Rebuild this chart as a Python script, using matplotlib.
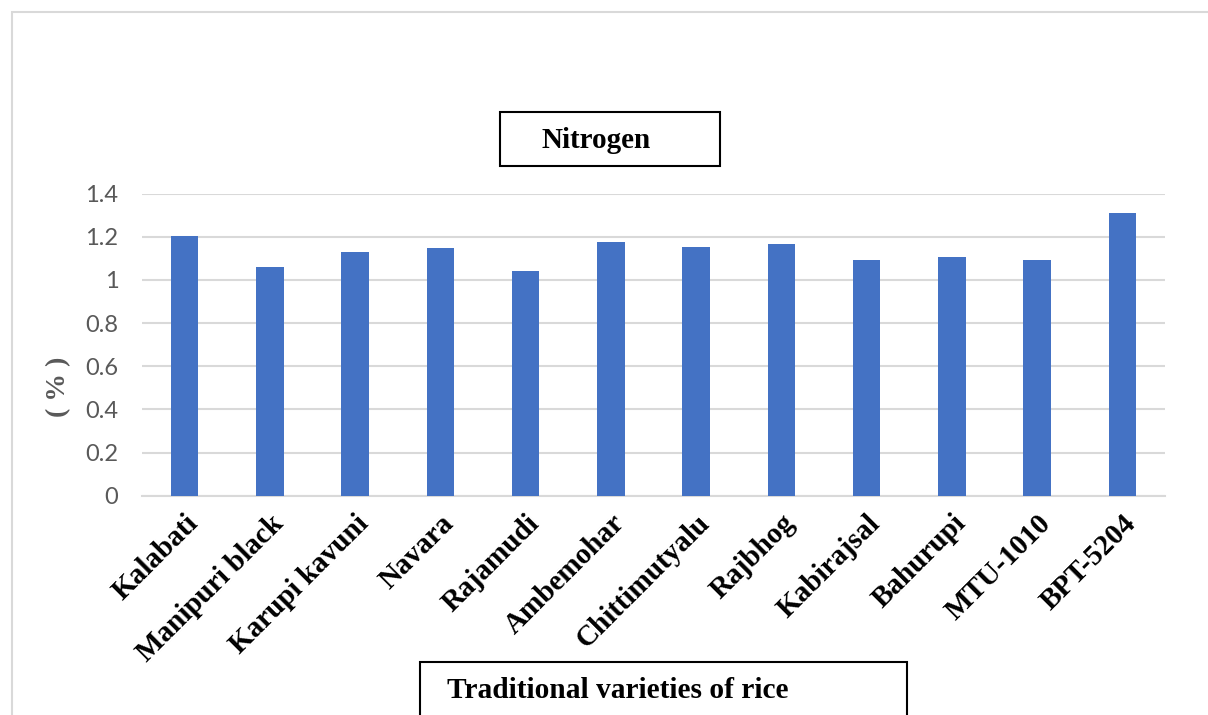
import numpy as np
import matplotlib.pyplot as plt
from matplotlib.patches import Rectangle

# nitrogen content of rice varieties
varieties = ['Kalabati', 'Manipuri black', 'Karupi kavuni', 'Navara', 'Rajamudi',
             'Ambemohar', 'Chittimutyalu', 'Rajbhog', 'Kabirajsal', 'Bahurupi',
             'MTU-1010', 'BPT-5204']
nitrogen = [1.203, 1.062, 1.130, 1.147, 1.042, 1.175,
            1.152, 1.168, 1.091, 1.105, 1.091, 1.309]
yticks = [0, 0.2, 0.4, 0.6, 0.8, 1, 1.2, 1.4]
ytick_labels = ['0', '0.2', '0.4', '0.6', '0.8', '1', '1.2', '1.4']

W, H = 1208, 715
fig = plt.figure(figsize=(W / 100, H / 100), dpi=100)

# outer chart frame (cut off at right/bottom)
fig.patches.append(Rectangle((12 / W, -0.1), 1.2, 1 - 12 / H + 0.1,
                             transform=fig.transFigure, fill=False,
                             edgecolor='#d9d9d9', lw=1.5))

ax = fig.add_axes([142 / W, 1 - 495.7 / H, 1023 / W, 302 / H])
x = np.arange(len(varieties))
ax.bar(x, nitrogen, width=0.32, color='#4472C4', zorder=3)
ax.set_xlim(-0.5, len(varieties) - 0.5)
ax.set_ylim(0, 1.4)
ax.set_yticks(yticks)
ax.set_yticklabels(ytick_labels, fontfamily='Lato', fontsize=17, color='#595959')
ax.yaxis.grid(True, color='#d9d9d9', lw=1.5, zorder=0)
ax.tick_params(axis='y', length=0, pad=17)
ax.tick_params(axis='x', length=0, pad=10)
for s in ['top', 'right', 'left']:
    ax.spines[s].set_visible(False)
ax.spines['bottom'].set_color('#d9d9d9')
ax.spines['bottom'].set_linewidth(1.5)

ax.set_xticks(x)
ax.set_xticklabels(varieties, rotation=45, ha='right', rotation_mode='anchor',
                   fontfamily='Liberation Serif', fontweight='bold', fontsize=21)

fig.text(59 / W, 1 - 387 / H, '( % )', rotation=90, ha='center', va='center',
         fontfamily='Liberation Serif', fontweight='bold', fontsize=20, color='#595959')

# title box
fig.patches.append(Rectangle((500 / W, 1 - 166 / H), 220 / W, 54 / H,
                             transform=fig.transFigure, fill=False,
                             edgecolor='black', lw=1.5))
fig.text(542 / W, 1 - 140 / H, 'Nitrogen', ha='left', va='center',
         fontfamily='Liberation Serif', fontweight='bold', fontsize=21)

# x-axis title box
fig.patches.append(Rectangle((420 / W, -0.05), 487 / W, 1 - 662 / H + 0.05,
                             transform=fig.transFigure, fill=False,
                             edgecolor='black', lw=1.5))
fig.text(447 / W, 1 - 691 / H, 'Traditional varieties of rice', ha='left', va='center',
         fontfamily='Liberation Serif', fontweight='bold', fontsize=21.2)

fig.savefig('out.png', dpi=100)
